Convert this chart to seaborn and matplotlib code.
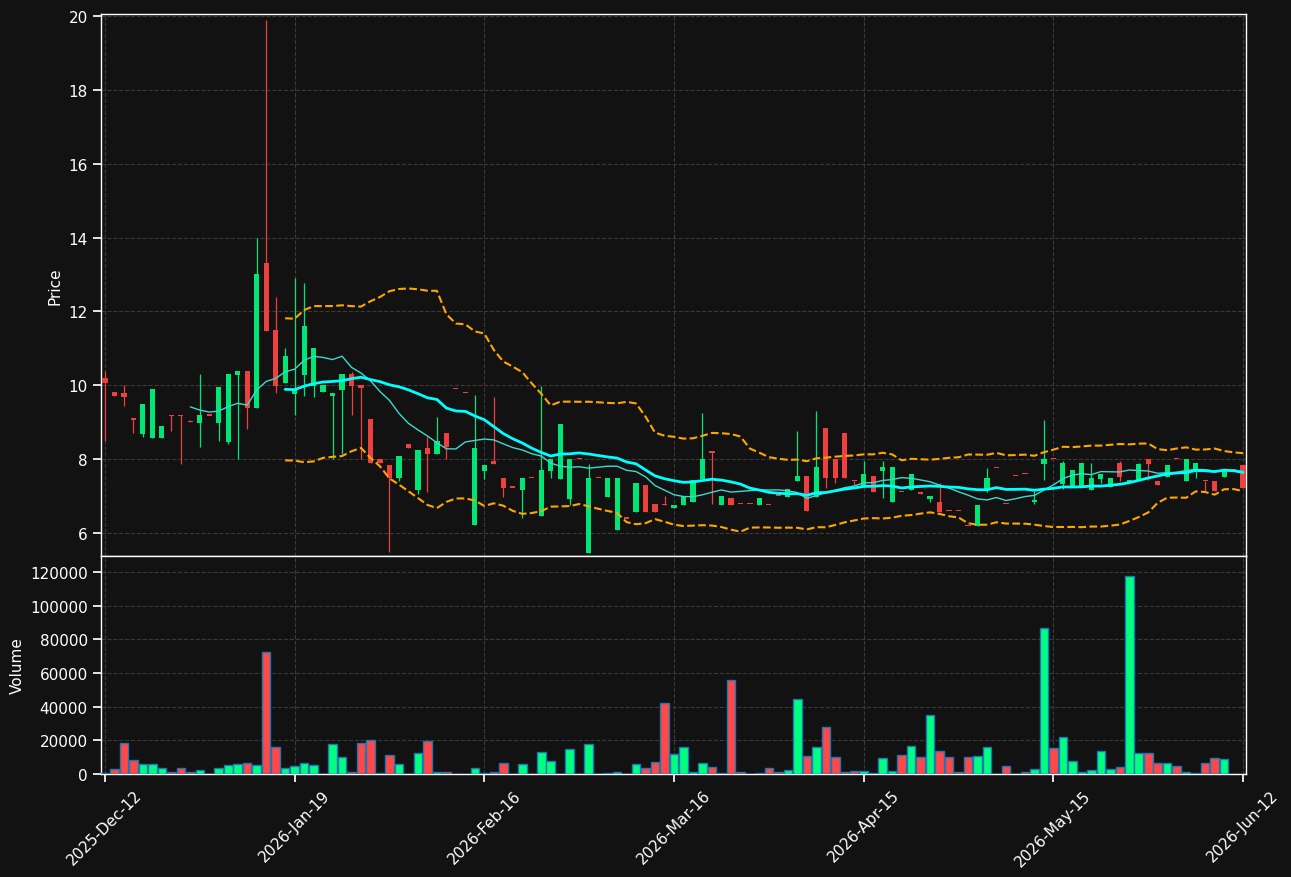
import numpy as np
import pandas as pd
import matplotlib
matplotlib.use("Agg")
import matplotlib.pyplot as plt
import seaborn as sns

# OHLC values, one per trading session
opens = [10.20, 9.83, 9.79, 9.09, 8.68, 8.57, 8.57, 9.19, 9.19, 9.02,
         8.99, 9.18, 8.99, 8.47, 10.28, 10.38, 9.39, 13.31, 11.49, 10.06,
         9.76, 10.28, 9.99, 9.83, 9.72, 9.87, 10.31, 10.01, 9.09, 8.00,
         7.85, 7.49, 8.41, 7.18, 8.31, 8.13, 8.71, 9.90, 9.78, 6.23,
         7.69, 7.95, 7.49, 7.23, 7.17, 7.49, 6.47, 7.68, 7.47, 6.93,
         8.00, 5.47, 7.49, 6.98, 6.09, 6.39, 6.58, 7.30, 6.78, 6.78,
         6.68, 6.77, 6.83, 7.47, 8.20, 6.77, 6.95, 6.78, 6.78, 6.75,
         6.76, 7.01, 6.99, 7.40, 7.54, 6.99, 8.84, 8.01, 8.70, 7.42,
         7.24, 7.55, 7.69, 6.83, 7.11, 7.18, 7.11, 6.93, 6.85, 6.59,
         6.59, 6.19, 6.18, 7.20, 7.76, 6.78, 7.54, 7.59, 6.83, 7.88,
         8.00, 7.33, 7.24, 7.24, 7.18, 7.47, 7.24, 7.90, 7.36, 7.45,
         8.01, 7.41, 7.53, 8.00, 7.40, 7.72, 7.42, 7.41, 7.53, 7.70,
         7.85]
highs = [10.38, 9.83, 10.00, 9.09, 9.49, 9.90, 8.90, 9.19, 9.19, 9.06,
         10.30, 9.18, 9.95, 10.30, 10.38, 10.38, 14.00, 19.90, 12.38, 11.00,
         12.90, 12.78, 11.01, 10.01, 9.79, 10.31, 10.35, 10.01, 9.09, 8.00,
         7.85, 8.09, 8.41, 8.25, 8.59, 9.14, 8.71, 9.90, 9.78, 9.73,
         7.85, 9.69, 7.49, 7.23, 7.49, 7.49, 9.98, 8.00, 8.95, 8.00,
         8.00, 7.88, 7.49, 7.49, 7.49, 6.39, 7.35, 7.30, 6.78, 7.00,
         6.77, 7.00, 7.44, 9.25, 8.20, 7.01, 6.95, 6.78, 6.78, 6.95,
         6.76, 7.01, 7.20, 8.77, 7.54, 9.30, 8.84, 8.01, 8.70, 7.42,
         7.94, 7.55, 7.95, 7.78, 7.11, 7.60, 7.11, 7.00, 7.35, 6.59,
         6.59, 6.19, 6.77, 7.76, 7.76, 6.78, 7.54, 7.59, 7.13, 9.07,
         8.00, 7.95, 7.71, 7.90, 7.90, 7.60, 7.50, 7.95, 7.44, 7.90,
         8.01, 7.41, 7.85, 8.00, 8.01, 7.90, 7.42, 7.41, 7.69, 7.70,
         7.85]
lows = [8.48, 9.71, 9.43, 8.70, 8.59, 8.57, 8.57, 8.77, 7.88, 9.00,
        8.34, 9.18, 8.48, 8.40, 8.00, 8.83, 9.39, 11.48, 9.78, 10.06,
        9.20, 9.72, 9.69, 9.83, 8.00, 8.13, 9.20, 8.00, 7.89, 7.89,
        5.49, 7.41, 8.30, 7.06, 7.11, 8.13, 8.00, 9.90, 9.78, 6.23,
        7.47, 7.87, 6.99, 7.23, 6.40, 7.49, 6.47, 7.48, 7.47, 6.77,
        8.00, 5.47, 7.49, 6.98, 6.09, 6.39, 6.58, 6.58, 6.58, 6.76,
        6.68, 6.77, 6.83, 7.47, 6.78, 6.77, 6.77, 6.78, 6.78, 6.75,
        6.76, 7.01, 6.99, 7.40, 6.59, 6.99, 7.23, 7.35, 7.49, 7.29,
        7.24, 7.10, 6.95, 6.83, 7.11, 7.18, 7.05, 6.83, 6.58, 6.59,
        6.59, 6.19, 6.18, 7.11, 7.76, 6.78, 7.54, 7.59, 6.78, 7.43,
        8.00, 7.20, 7.24, 7.24, 7.18, 7.35, 7.24, 7.41, 7.36, 7.45,
        7.44, 7.29, 7.53, 8.00, 7.40, 7.49, 7.15, 7.13, 7.53, 7.70,
        7.23]
closes = [10.06, 9.72, 9.69, 9.07, 9.49, 9.90, 8.90, 9.17, 9.17, 9.00,
          9.19, 9.18, 9.95, 10.30, 10.38, 9.39, 13.01, 11.48, 9.99, 10.79,
          9.89, 11.60, 11.01, 10.01, 9.79, 10.31, 9.99, 9.94, 7.89, 7.89,
          7.49, 8.09, 8.30, 8.25, 8.13, 8.50, 8.34, 9.90, 9.78, 8.31,
          7.85, 7.87, 7.23, 7.23, 7.49, 7.49, 7.70, 8.00, 8.95, 8.00,
          8.00, 7.49, 7.49, 7.49, 7.49, 6.39, 7.35, 6.58, 6.58, 6.76,
          6.77, 7.00, 7.44, 8.01, 8.18, 7.01, 6.77, 6.78, 6.78, 6.95,
          6.76, 7.01, 7.20, 7.54, 6.59, 7.78, 7.49, 7.49, 7.49, 7.40,
          7.59, 7.10, 7.78, 7.78, 7.11, 7.60, 7.05, 7.00, 6.58, 6.59,
          6.59, 6.19, 6.77, 7.50, 7.76, 6.78, 7.54, 7.59, 6.90, 8.01,
          8.00, 7.89, 7.71, 7.90, 7.50, 7.60, 7.50, 7.53, 7.44, 7.86,
          7.87, 7.29, 7.85, 8.00, 8.01, 7.90, 7.40, 7.13, 7.69, 7.70,
          7.23]
volumes = [400, 2800, 18300, 8200, 6200, 6200, 3400, 1000, 3400, 1000,
           2200, 0, 3400, 5200, 5800, 6400, 5200, 72600, 15900, 3400,
           4600, 6400, 5200, 0, 17700, 9950, 1000, 18300, 20300, 500,
           11100, 5800, 0, 12300, 19500, 1000, 1000, 0, 0, 3400,
           400, 1000, 6400, 0, 5800, 0, 12900, 7600, 0, 14700,
           0, 17700, 0, 400, 1000, 300, 5800, 3400, 7000, 42300,
           11800, 16000, 1000, 6400, 4000, 400, 55600, 1000, 0, 400,
           3400, 1000, 2400, 44800, 10600, 16000, 28000, 10000, 1000, 1600,
           1600, 400, 9400, 1600, 11200, 16600, 10000, 35200, 13600, 10000,
           1000, 10000, 10500, 15900, 0, 4600, 0, 1000, 2800, 87000,
           15300, 21900, 7600, 1000, 2200, 13500, 2800, 4000, 117400, 12300,
           12300, 6400, 6400, 4600, 1000, 400, 6400, 9400, 8800, 0,
           0]
tick_labels = ["2025-Dec-12", "2026-Jan-19", "2026-Feb-16", "2026-Mar-16",
               "2026-Apr-15", "2026-May-15", "2026-Jun-12"]

df = pd.DataFrame({"Open": opens, "High": highs, "Low": lows,
                   "Close": closes, "Volume": volumes})
df["idx"] = np.arange(len(df))
df["up"] = df["Close"] > df["Open"]
df["ma10"] = df["Close"].rolling(10).mean()
df["ma20"] = df["Close"].rolling(20).mean()
std20 = df["Close"].rolling(20).std(ddof=0)
df["bb_up"] = df["ma20"] + 2 * std20
df["bb_lo"] = df["ma20"] - 2 * std20

bg = "#121212"
sns.set_theme(style="dark", rc={
    "figure.facecolor": bg, "axes.facecolor": bg, "axes.edgecolor": "white",
    "axes.labelcolor": "white", "xtick.color": "white", "ytick.color": "white",
    "text.color": "white", "grid.color": "#3a3a3a", "grid.linestyle": "--",
    "axes.grid": True, "xtick.bottom": True, "ytick.left": True,
})
plt.rcParams["font.family"] = ["DejaVu Sans"]

fig = plt.figure(figsize=(12.91, 8.78), dpi=100)
ax = fig.add_axes([0.0782, 0.3656, 0.8869, 0.6173])
axv = fig.add_axes([0.0782, 0.1173, 0.8869, 0.2483], sharex=ax)

up_c, dn_c = "#00e676", "#ef4040"
cols = np.where(df["up"], up_c, dn_c)

# wicks and bodies
ax.vlines(df["idx"], df["Low"], df["High"], colors=cols, linewidth=0.9, zorder=2)
body_lo = np.minimum(df["Open"], df["Close"])
body_h = np.maximum((df["Close"] - df["Open"]).abs(), 0.04)
ax.bar(df["idx"], body_h, bottom=body_lo, width=0.55, color=cols, linewidth=0, zorder=3)

# moving averages and bands
sns.lineplot(data=df, x="idx", y="ma10", ax=ax, color="#40d8cc", linewidth=1.0, zorder=4)
sns.lineplot(data=df, x="idx", y="ma20", ax=ax, color="#00ffff", linewidth=2.0, zorder=4)
sns.lineplot(data=df, x="idx", y="bb_up", ax=ax, color="#ffa500", linewidth=1.5,
             linestyle="--", zorder=4)
sns.lineplot(data=df, x="idx", y="bb_lo", ax=ax, color="#ffa500", linewidth=1.5,
             linestyle="--", zorder=4)

# volume
vcols = np.where(df["up"], "#00ff80", "#ff4848")
axv.bar(df["idx"], df["Volume"], width=0.9, color=vcols, edgecolor="#1f77b4",
        linewidth=1.0, zorder=3)

ax.set_xlim(-0.42, 120.3)
ax.set_ylim(5.38, 20.05)
ax.set_yticks(np.arange(6, 21, 2))
axv.set_ylim(0, 129500)
axv.set_yticks(np.arange(0, 120001, 20000))

ticks = np.arange(0, len(df), 20)
axv.set_xticks(ticks)
axv.set_xticklabels(tick_labels, rotation=45)
ax.tick_params(axis="x", labelbottom=False, length=0)

ax.set_xlabel("")
axv.set_xlabel("")
ax.set_ylabel("Price", fontsize=11)
axv.set_ylabel("Volume", fontsize=11)
for a in (ax, axv):
    a.tick_params(axis="both", labelsize=11)
    a.grid(True, linestyle="--", color="#3a3a3a", linewidth=0.8)
    a.set_axisbelow(True)
    for s in a.spines.values():
        s.set_color("white")
        s.set_linewidth(1.0)

fig.savefig("out.png", dpi=100, facecolor=bg)
